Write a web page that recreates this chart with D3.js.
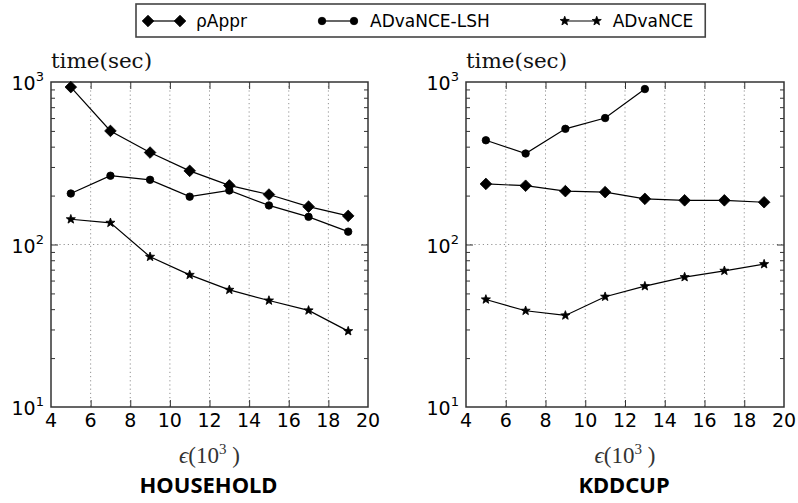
<!DOCTYPE html>
<html><head><meta charset="utf-8">
<script src="https://cdn.jsdelivr.net/npm/d3@7"></script>
<style>body{margin:0;background:#fff}</style>
</head><body>
<svg id="c" width="798" height="503" xmlns="http://www.w3.org/2000/svg"></svg>
<script>
// ---- data ----
const eps = [5, 7, 9, 11, 13, 15, 17, 19];
const seriesNames = ["ρAppr", "ADvaNCE-LSH", "ADvaNCE"];
const householdRhoAppr = [930, 500, 368, 284, 231, 203, 171, 150];
const householdLSH = [206, 265, 250, 197, 215, 174, 148, 120];
const householdADvaNCE = [143, 136, 84, 65, 52.6, 45.2, 39.3, 29.3];
const kddRhoAppr = [236, 230, 213, 210, 191, 187, 187, 182];
const kddLSH = [438, 363, 515, 600, 905];
const kddADvaNCE = [45.9, 39.1, 36.6, 47.7, 55.4, 63, 68.9, 75.7];
const xTicks = [4, 6, 8, 10, 12, 14, 16, 18, 20];
const yTickExps = [1, 2, 3];
const panelTitles = ["HOUSEHOLD", "KDDCUP"];
const yLabel = "time(sec)";

// ---- markers ----
function diamondPath(s) { return `M0,${-s}L${s},0L0,${s}L${-s},0Z`; }
function starPath(R) {
  const r = R * 0.42; let p = "";
  for (let i = 0; i < 10; i++) {
    const a = -Math.PI / 2 + i * Math.PI / 5, rr = i % 2 ? r : R;
    p += (i ? "L" : "M") + (rr * Math.cos(a)).toFixed(2) + "," + (rr * Math.sin(a)).toFixed(2);
  }
  return p + "Z";
}
const markerPaths = [diamondPath(5.8), d3.symbol(d3.symbolCircle, 44)(), starPath(4.8)];

const svg = d3.select("#c");
const plotTop = 82, plotBottom = 407;
const panels = [
  { L: 51, R: 368, title: panelTitles[0], data: [householdRhoAppr, householdLSH, householdADvaNCE] },
  { L: 466, R: 784, title: panelTitles[1], data: [kddRhoAppr, kddLSH, kddADvaNCE] }
];

panels.forEach(p => {
  const x = d3.scaleLinear().domain([4, 20]).range([p.L, p.R]);
  const y = d3.scaleLog().domain([10, 1000]).range([plotBottom, plotTop]);
  const g = svg.append("g");

  // grid
  xTicks.slice(1, -1).forEach(t => {
    g.append("line").attr("x1", x(t)).attr("x2", x(t)).attr("y1", plotTop).attr("y2", plotBottom)
      .attr("stroke", "#777").attr("stroke-width", 0.8).attr("stroke-dasharray", "1.2,3");
  });
  g.append("line").attr("x1", p.L).attr("x2", p.R).attr("y1", y(100)).attr("y2", y(100))
    .attr("stroke", "#777").attr("stroke-width", 0.8).attr("stroke-dasharray", "1.2,3");

  // axes with inward ticks
  const minor = [];
  [10, 100].forEach(b => { for (let k = 2; k <= 9; k++) minor.push(b * k); });
  const axL = d3.axisLeft(y).tickValues([100]).tickSizeInner(-7).tickSizeOuter(0).tickFormat("");
  const axR = d3.axisRight(y).tickValues([100]).tickSizeInner(-7).tickSizeOuter(0).tickFormat("");
  const mL = d3.axisLeft(y).tickValues(minor).tickSizeInner(-4).tickSizeOuter(0).tickFormat("");
  const mR = d3.axisRight(y).tickValues(minor).tickSizeInner(-4).tickSizeOuter(0).tickFormat("");
  const axB = d3.axisBottom(x).tickValues(xTicks.slice(1, -1)).tickSizeInner(-7).tickSizeOuter(0).tickFormat("");
  const axT = d3.axisTop(x).tickValues(xTicks.slice(1, -1)).tickSizeInner(-7).tickSizeOuter(0).tickFormat("");
  [[axL, `translate(${p.L},0)`], [mL, `translate(${p.L},0)`], [axR, `translate(${p.R},0)`], [mR, `translate(${p.R},0)`],
   [axB, `translate(0,${plotBottom})`], [axT, `translate(0,${plotTop})`]].forEach(([a, tr]) => {
    const ag = g.append("g").attr("transform", tr).call(a);
    ag.select(".domain").remove();
    ag.selectAll("line").attr("stroke", "#333").attr("stroke-width", 1);
  });

  // frame
  g.append("rect").attr("x", p.L).attr("y", plotTop).attr("width", p.R - p.L).attr("height", plotBottom - plotTop)
    .attr("fill", "none").attr("stroke", "#333").attr("stroke-width", 1.5);

  // x tick labels
  xTicks.forEach(t => {
    g.append("text").attr("x", x(t)).attr("y", 427).attr("text-anchor", "middle")
      .attr("font-family", "DejaVu Sans").attr("font-size", 19).attr("fill", "#000").text(t);
  });
  // y tick labels
  yTickExps.forEach(e => {
    const t = g.append("text").attr("x", p.L - 7).attr("y", y(Math.pow(10, e)) + 8).attr("text-anchor", "end")
      .attr("font-family", "DejaVu Sans").attr("font-size", 19).attr("fill", "#000");
    t.append("tspan").text("10");
    t.append("tspan").attr("dy", -9).attr("font-size", 13).text(e);
  });

  // y label
  g.append("text").attr("x", p.L).attr("y", 68).attr("font-family", "DejaVu Serif").attr("font-size", 20)
    .attr("textLength", 101).attr("lengthAdjust", "spacingAndGlyphs").attr("fill", "#111").text(yLabel);

  // x label
  const cx = (p.L + p.R) / 2;
  const xl = g.append("text").attr("x", cx).attr("y", 463).attr("text-anchor", "middle")
    .attr("font-family", "Liberation Serif").attr("font-size", 23).attr("fill", "#333");
  xl.append("tspan").attr("font-style", "italic").text("ϵ");
  xl.append("tspan").text("(10");
  xl.append("tspan").attr("dy", -9).attr("font-size", 15).text("3");
  xl.append("tspan").attr("dy", 9).text(" )");

  // title
  g.append("text").attr("x", cx - 1).attr("y", 493).attr("text-anchor", "middle")
    .attr("font-family", "Noto Sans").attr("font-weight", "bold").attr("font-size", 22).attr("fill", "#000")
    .text(p.title);

  // series
  p.data.forEach((vals, si) => {
    const pts = vals.map((v, i) => [eps[i], v]);
    g.append("path").attr("d", d3.line().x(d => x(d[0])).y(d => y(d[1]))(pts))
      .attr("fill", "none").attr("stroke", "#000").attr("stroke-width", 1.2);
    g.selectAll(null).data(pts).enter().append("path")
      .attr("transform", d => `translate(${x(d[0])},${y(d[1])})`)
      .attr("d", markerPaths[si]).attr("fill", "#000").attr("stroke", "#000").attr("stroke-width", 0.8);
  });
});

// ---- legend ----
const lg = svg.append("g");
const handleLen = 32, hGap = 16, colGap = 75, ly = 21;
const temp = lg.append("g");
const widths = seriesNames.map(n => {
  const t = temp.append("text").attr("font-family", "DejaVu Sans").attr("font-size", 17).text(n);
  const w = t.node().getComputedTextLength(); t.remove(); return w;
});
temp.remove();
let x0 = 322 - colGap - widths[0] - hGap - handleLen;
const boxL = x0 - 12;
let cur = x0;
const items = [];
seriesNames.forEach((n, i) => { items.push(cur); cur += handleLen + hGap + widths[i] + colGap; });
const boxR = cur - colGap + 12;
lg.append("rect").attr("x", boxL).attr("y", 4).attr("width", boxR - boxL).attr("height", 33)
  .attr("fill", "#fff").attr("stroke", "#444").attr("stroke-width", 1.6);
seriesNames.forEach((n, i) => {
  const xs = items[i];
  lg.append("line").attr("x1", xs).attr("x2", xs + handleLen).attr("y1", ly).attr("y2", ly)
    .attr("stroke", "#000").attr("stroke-width", 1.2);
  [xs, xs + handleLen].forEach(mx => lg.append("path").attr("transform", `translate(${mx},${ly})`)
    .attr("d", markerPaths[i]).attr("fill", "#000").attr("stroke", "#000").attr("stroke-width", 0.8));
  lg.append("text").attr("x", xs + handleLen + hGap).attr("y", ly + 6).attr("font-family", "DejaVu Sans")
    .attr("font-size", 17).attr("fill", "#000").text(n);
});
</script>
</body></html>
